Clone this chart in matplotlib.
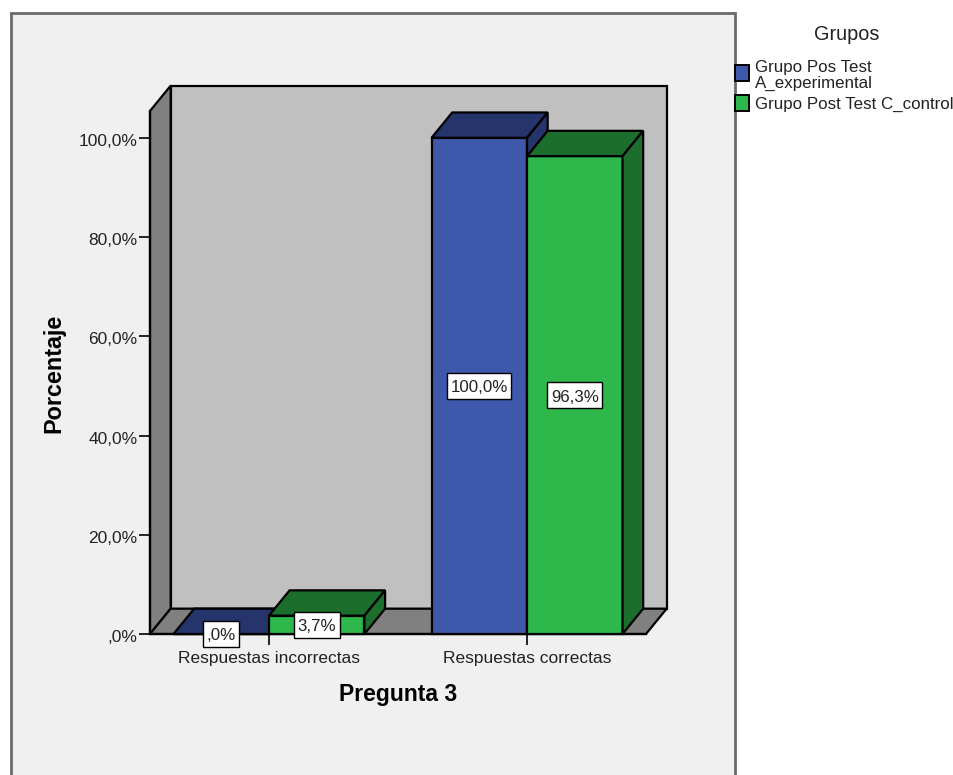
import matplotlib
matplotlib.use('Agg')
import matplotlib.pyplot as plt
from matplotlib.patches import Polygon, Rectangle
from matplotlib.transforms import ScaledTranslation, IdentityTransform

categorias = ['Respuestas incorrectas', 'Respuestas correctas']
grupos = ['Grupo Pos Test\nA_experimental', 'Grupo Post Test C_control']
exp_valores = [0.0, 100.0]
ctrl_valores = [3.7, 96.3]
exp_etiquetas = [',0%', '100,0%']
ctrl_etiquetas = ['3,7%', '96,3%']
yticks = [0, 20, 40, 60, 80, 100]
ytick_labels = [',0%', '20,0%', '40,0%', '60,0%', '80,0%', '100,0%']

W, H = 954, 775
FONDO = '#f0f0f0'
AZUL, AZUL_OSC = '#3e58ac', '#25346a'
VERDE, VERDE_OSC = '#2eb84b', '#1c6e2d'
PARED, PISO = '#c0c0c0', '#808080'

ANCHO = 0.37     # ancho de barra
DX, DY = 0.08, 5.1   # profundidad del efecto 3D en unidades de datos
XMIN, XMAX = -0.461, 1.461
YMAX = 105.4
FS = 12.2
LW = 1.6

plt.rcParams['font.family'] = ['Liberation Sans', 'DejaVu Sans']


def px(x, y, w, h):
    # rectangulo en pixeles (origen arriba a la izquierda) a fraccion de figura
    return [x / W, 1 - (y + h) / H, w / W, h / H]


def caja3d(a, x0, x1, v, frente, oscuro):
    a.add_patch(Rectangle((x0, 0), x1 - x0, v, fc=frente, ec='black', lw=LW, clip_on=False, zorder=3))
    a.add_patch(Polygon([(x0, v), (x0 + DX, v + DY), (x1 + DX, v + DY), (x1, v)],
                        fc=oscuro, ec='black', lw=LW, clip_on=False, zorder=3))
    a.add_patch(Polygon([(x1, 0), (x1 + DX, DY), (x1 + DX, v + DY), (x1, v)],
                        fc=oscuro, ec='black', lw=LW, clip_on=False, zorder=3))


def etiqueta(f, a, x, v, s, baja):
    # caja blanca medida en pixeles: poco margen a los lados, mas arriba y abajo
    t = a.text(x, v / 2, s, ha='center', va='center', fontsize=FS, color='#222222', zorder=6,
               transform=a.transData + baja)
    cx, cy = a.transData.transform((x, v / 2))
    ext = t.get_window_extent(f.canvas.get_renderer())
    ancho, alto = ext.width + 7, 26
    a.add_patch(Rectangle((cx - ancho / 2, cy - alto / 2), ancho, alto, transform=IdentityTransform(),
                          fc='white', ec='black', lw=1.0, clip_on=False, zorder=5))


def main():
    f = plt.figure(figsize=(W / 100, H / 100), dpi=100, facecolor='white')

    # panel gris del grafico, se corta por abajo
    x0, y0 = 11 / W, 1 - 13 / H
    f.add_artist(Rectangle((x0, -0.05), (735 - 11) / W, y0 + 0.05, transform=f.transFigure,
                           fc=FONDO, ec='#6a6a6a', lw=2, zorder=-1))

    a = f.add_axes(px(150, 111, 496, 523))
    a.set_xlim(XMIN, XMAX)
    a.set_ylim(0, YMAX)
    a.patch.set_visible(False)
    for s in ['top', 'right']:
        a.spines[s].set_visible(False)
    for s in ['left', 'bottom']:
        a.spines[s].set_linewidth(LW)
        a.spines[s].set_zorder(2.5)

    # paredes y piso
    a.add_patch(Polygon([(XMIN + DX, DY), (XMAX + DX, DY), (XMAX + DX, YMAX + DY), (XMIN + DX, YMAX + DY)],
                        fc=PARED, ec='black', lw=LW, clip_on=False, zorder=1))
    a.add_patch(Polygon([(XMIN, 0), (XMIN + DX, DY), (XMIN + DX, YMAX + DY), (XMIN, YMAX)],
                        fc=PISO, ec='black', lw=LW, clip_on=False, zorder=1))
    a.add_patch(Polygon([(XMIN, 0), (XMIN + DX, DY), (XMAX + DX, DY), (XMAX, 0)],
                        fc=PISO, ec='black', lw=LW, clip_on=False, zorder=1))

    # los textos quedan un poco por debajo de su posicion nominal
    baja = ScaledTranslation(0, -2 / 100, f.dpi_scale_trans)

    for i in range(len(categorias)):
        caja3d(a, i - ANCHO, i, exp_valores[i], AZUL, AZUL_OSC)
        caja3d(a, i, i + ANCHO, ctrl_valores[i], VERDE, VERDE_OSC)
        etiqueta(f, a, i - ANCHO / 2, exp_valores[i], exp_etiquetas[i], baja)
        etiqueta(f, a, i + ANCHO / 2, ctrl_valores[i], ctrl_etiquetas[i], baja)

    a.set_yticks(yticks)
    a.set_yticklabels(ytick_labels, fontsize=12.5, color='#222222')
    a.set_xticks(range(len(categorias)))
    a.set_xticklabels(categorias, fontsize=12.5, color='#222222')
    a.tick_params(axis='y', length=8, width=1.2, pad=1)
    a.tick_params(axis='x', length=8, width=1.2, pad=4.5)
    for lab in a.get_yticklabels():
        lab.set_transform(lab.get_transform() + baja)

    f.text(398 / W, 1 - 694 / H, 'Pregunta 3', fontsize=16.5, fontweight='bold', ha='center', va='center')
    f.text(54 / W, 1 - 373 / H, 'Porcentaje', fontsize=16.8, fontweight='bold', rotation=90, ha='center', va='center')

    # leyenda
    f.text(847 / W, 1 - 34 / H, 'Grupos', fontsize=14.3, color='#222222', ha='center', va='center')
    f.add_artist(Rectangle((735 / W, 1 - 81 / H), 14 / W, 16 / H, transform=f.transFigure,
                           fc=AZUL, ec='black', lw=1.4))
    f.add_artist(Rectangle((735 / W, 1 - 111 / H), 14 / W, 16 / H, transform=f.transFigure,
                           fc=VERDE, ec='black', lw=1.4))
    f.text(755 / W, 1 - 75.5 / H, grupos[0], fontsize=FS, color='#222222', va='center', linespacing=1.05)
    f.text(755 / W, 1 - 104 / H, grupos[1], fontsize=FS, color='#222222', va='center')

    f.savefig('out.png', dpi=100, facecolor='white')


if __name__ == "__main__":
    main()
